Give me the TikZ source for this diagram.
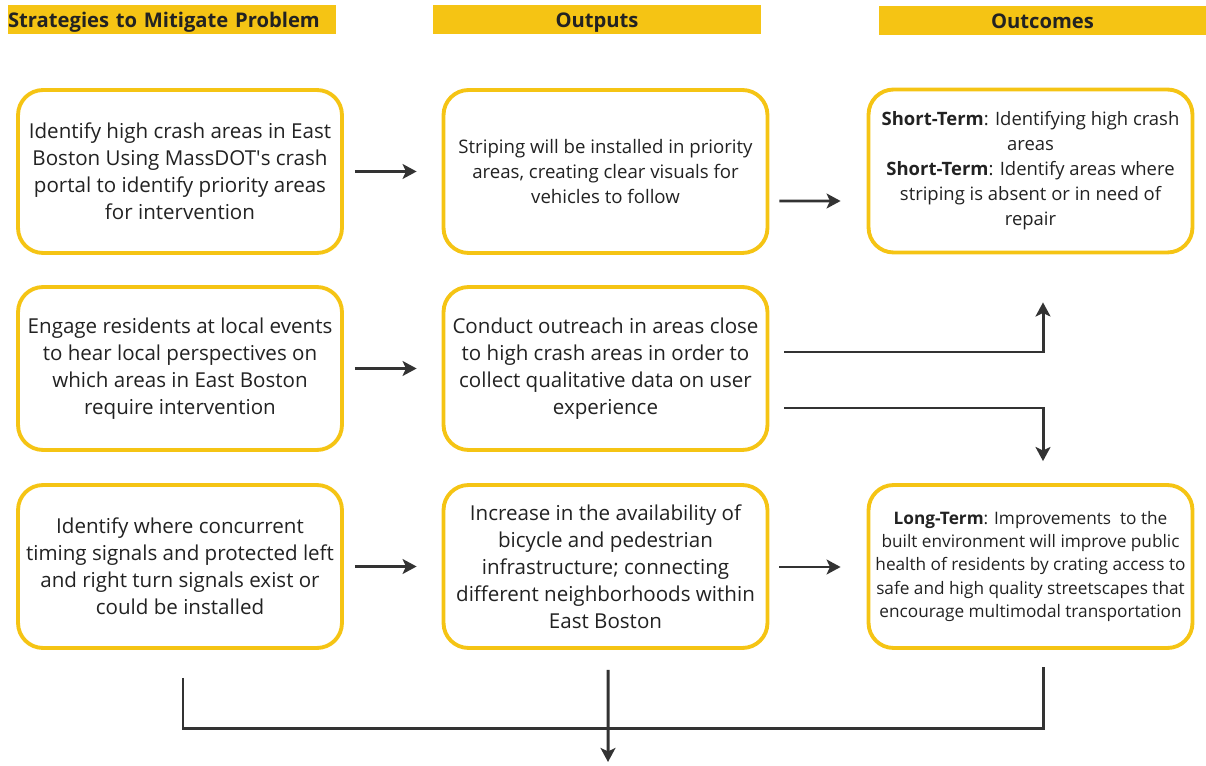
\documentclass[tikz,border=0pt]{standalone}
\usepackage{fontspec}
\setmainfont{Open Sans}
\usetikzlibrary{arrows.meta}

\definecolor{gold}{HTML}{F5C414}
\definecolor{ink}{HTML}{333333}
\definecolor{txt}{HTML}{222222}

\tikzset{
  header/.style={fill=gold, minimum width=6.56cm, minimum height=0.58cm, inner sep=0pt,
    text height=0.9em, text depth=0pt,
    text=txt, font=\bfseries\fontsize{11.5}{13}\selectfont},
  card/.style={draw=gold, line width=2.2pt, rounded corners=0.5cm, fill=white,
    minimum width=6.48cm, minimum height=3.26cm, align=center, text=txt,
    font=\fontsize{11.7}{15.3}\selectfont},
  tightcard/.style={card, font=\fontsize{10.6}{14.2}\selectfont},
  shortcard/.style={card, font=\fontsize{10.5}{14.2}\selectfont},
  longcard/.style={card, font=\fontsize{9.8}{13.2}\selectfont},
  flow/.style={ink, line width=1.7pt, -{Stealth[length=8pt,width=8.5pt,inset=2pt]}},
  link/.style={ink, line width=1.7pt},
}

\begin{document}
\begin{tikzpicture}[x=0.02cm, y=-0.02cm]
    \useasboundingbox (0,0) rectangle (1206,766);

    % Headers
    \node[header, text width=6.56cm, align=left] (hstrat) at (172,19.5) {Strategies to Mitigate Problem};
    \node[header] (hout) at (597,19.5) {Outputs};
    \node[header, minimum width=6.54cm] (hres) at (1042.5,20.5) {Outcomes};

    % Strategies
    \node[card] (strat1) at (180,171.5) {Identify high crash areas in East\\Boston Using MassDOT\textquotesingle s crash\\portal to identify priority areas\\for intervention};
    \node[card] (strat2) at (180,368.5) {Engage residents at local events\\to hear local perspectives on\\which areas in East Boston\\require intervention};
    \node[card] (strat3) at (180,566.5) {Identify where concurrent\\timing signals and protected left\\and right turn signals exist or\\could be installed};

    % Outputs
    \node[tightcard] (out1) at (605.5,171.5) {Striping will be installed in priority\\areas, creating clear visuals for\\vehicles to follow};
    \node[card] (out2) at (605.5,368.5) {Conduct outreach in areas close\\to high crash areas in order to\\collect qualitative data on user\\experience};
    \node[card] (out3) at (605.5,566.5) {Increase in the availability of\\bicycle and pedestrian\\infrastructure; connecting\\different neighborhoods within\\East Boston};

    % Outcomes
    \node[shortcard] (res1) at (1030.5,171) {\textbf{Short-Term}: Identifying high crash\\areas\\\textbf{Short-Term}: Identify areas where\\striping is absent or in need of\\repair};
    \node[longcard] (res3) at (1030.5,566.5) {\textbf{Long-Term}: Improvements\ \ to the\\built environment will improve public\\health of residents by crating access to\\safe and high quality streetscapes that\\encourage multimodal transportation};

    % Row arrows
    \draw[flow] ([shift={(11,0)}]strat1.east) -- ([shift={(-25,0)}]out1.west);
    \draw[flow] ([shift={(11,0)}]strat2.east) -- ([shift={(-25,0)}]out2.west);
    \draw[flow] ([shift={(11,0)}]strat3.east) -- ([shift={(-25,0)}]out3.west);
    \draw[flow] ([shift={(10,29.5)}]out1.east) -- ([shift={(-26,30)}]res1.west);
    \draw[flow] ([shift={(10,0.5)}]out3.east) -- ([shift={(-26,0.5)}]res3.west);

    % Elbows from the middle row
    \draw[flow] ([shift={(15,-16.5)}]out2.east) -| ([shift={(12.5,48)}]res1.south);
    \draw[flow] ([shift={(15,39.5)}]out2.east) -| ([shift={(12.5,-22)}]res3.north);

    % Bottom bracket
    \coordinate (sink) at (608,762);
    \draw[link, line join=miter] ([shift={(3,28)}]strat3.south) -- ([shift={(3,79)}]strat3.south)
        -- ([shift={(12.5,79)}]res3.south) -- ([shift={(12.5,17)}]res3.south);
    \draw[flow] ([shift={(2.5,20)}]out3.south) -- (sink);
\end{tikzpicture}
\end{document}
